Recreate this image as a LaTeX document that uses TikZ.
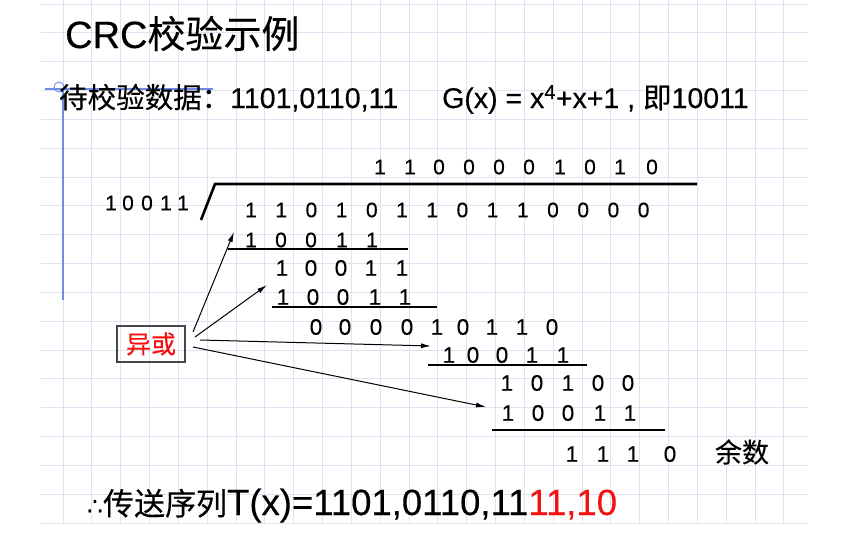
\documentclass[tikz,border=0pt]{standalone}
\usepackage{fontspec}
\setmainfont{Liberation Sans}[FakeBold=0.3]
\newfontfamily\cjk{Noto Sans CJK SC}[FakeBold=0.25]
\newfontfamily\symfont{DejaVu Sans}
\usetikzlibrary{arrows.meta}

\definecolor{gridc}{RGB}{224,226,241}
\definecolor{cursorblue}{RGB}{112,140,232}
\definecolor{xred}{RGB}{245,16,16}
\definecolor{boxgray}{RGB}{70,70,70}

\newcommand\fsz[1]{\fontsize{#1}{#1}\selectfont}

\begin{document}
\begin{tikzpicture}[x=1pt,y=-1pt,
  digit/.style={inner sep=0pt, font=\fsz{21}},
  lowdigit/.style={inner sep=0pt, font=\fsz{22.5}},
  rulebar/.style={line width=2.6pt},
  pointer/.style={line width=1pt, -{Latex[length=10pt,width=5pt]}},
  gridline/.style={gridc, line width=0.8pt},
  textline/.style={inner sep=0pt, anchor=base west},
]
\useasboundingbox (0,0) rectangle (863,554);

% ruled background
\foreach \k in {0,...,25}
  \draw[gridline] ({63+28.83*\k},0) -- ({63+28.83*\k},523);
\foreach \k in {0,...,18}
  \draw[gridline] (41,{4+28.83*\k}) -- (808,{4+28.83*\k});

% text cursor marks
\draw[cursorblue, line width=1.2pt] (45,89) -- (213,89);
\draw[cursorblue, line width=1.2pt] (63,89) -- (63,300);
\draw[cursorblue, line width=0.9pt] (59,87) circle (5pt);

% headings
\node[textline] (title) at (65,48) {\fsz{38}CRC{\cjk 校验示例}};
\node[textline] (data) at (59,108) {\fsz{28.5}{\cjk 待校验数据：}1101,0110,11};
\node[textline] (poly) at (442,108) {\fsz{28.5}G(x) = x\textsuperscript{4}+x+1 , {\cjk 即}10011};

% divisor
\foreach \x/\d [count=\i] in {111/1,128/0,147/0,166/1,183/1}
  \node[digit] (g\i) at (\x,203) {\d};

% quotient
\foreach \x/\d [count=\i] in {380/1,410/1,439/0,469/0,499/0,529/0,560/1,590/0,620/1,652/0}
  \node[digit] (q\i) at (\x,167) {\d};

% dividend
\foreach \d [count=\i] in {1,1,0,1,0,1,1,0,1,1,0,0,0,0}
  \node[digit] (m\i) at ({251+30.2*(\i-1)},210) {\d};

% division sign
\coordinate (barfoot) at (201,220);
\coordinate (barknee) at (215,184);
\coordinate (barend) at (697,184);
\draw[rulebar] (barfoot) -- (barknee) -- (barend);

% working rows
\foreach \x/\d [count=\i] in {251/1,281/0,311/0,342/1,372/1}
  \node[digit] (ra\i) at (\x,240) {\d};
\foreach \x/\d [count=\i] in {282/1,311/0,341/0,371/1,402/1}
  \node[lowdigit] (rb\i) at (\x,268) {\d};
\foreach \x/\d [count=\i] in {283/1,313/0,343/0,375/1,405/1}
  \node[lowdigit] (rc\i) at (\x,297) {\d};
\foreach \x/\d [count=\i] in {316/0,345/0,376/0,407/0,437/1,463/0,492/1,522/1,552/0}
  \node[lowdigit] (rd\i) at (\x,327) {\d};
\foreach \x/\d [count=\i] in {449/1,473/0,502/0,532/1,563/1}
  \node[lowdigit] (re\i) at (\x,355) {\d};
\foreach \x/\d [count=\i] in {507/1,537/0,568/1,598/0,628/0}
  \node[lowdigit] (rf\i) at (\x,383) {\d};
\foreach \x/\d [count=\i] in {508/1,538/0,568/0,600/1,630/1}
  \node[lowdigit] (rg\i) at (\x,413) {\d};
\foreach \x/\d [count=\i] in {572/1,603/1,633/1,670/0}
  \node[lowdigit] (rh\i) at (\x,454) {\d};
\node[inner sep=0pt, font=\cjk\fsz{27}] (rest) at (742,452) {余数};

% subtraction rules
\coordinate (u1a) at (228,249); \coordinate (u1b) at (408,249);
\coordinate (u2a) at (272,307); \coordinate (u2b) at (437,307);
\coordinate (u3a) at (428,365); \coordinate (u3b) at (587,365);
\coordinate (u4a) at (492,430); \coordinate (u4b) at (665,430);
\draw[rulebar] (u1a) -- (u1b);
\draw[rulebar] (u2a) -- (u2b);
\draw[rulebar] (u3a) -- (u3b);
\draw[rulebar] (u4a) -- (u4b);

% XOR label and its pointers
\node[draw=boxgray, line width=1.1pt, minimum width=68pt, minimum height=36pt,
      inner sep=0pt, text=xred, font=\cjk\fsz{25}] (xor) at (151,344) {异或};
\coordinate (s1) at (193,332); \coordinate (t1) at (234,232);
\coordinate (s2) at (195,337); \coordinate (t2) at (267,285);
\coordinate (s3) at (200,340); \coordinate (t3) at (431,346);
\coordinate (s4) at (193,347); \coordinate (t4) at (486,407);
\draw[pointer] (s1) -- (t1);
\draw[pointer] (s2) -- (t2);
\draw[pointer] (s3) -- (t3);
\draw[pointer] (s4) -- (t4);

% result
\node[textline] (result) at (87,515)
  {{\symfont\fsz{25}∴}{\cjk\fsz{31}传送序列}{\fsz{36.5}T(x)=1101,0110,11\textcolor{xred}{11,10}}};
\end{tikzpicture}
\end{document}
